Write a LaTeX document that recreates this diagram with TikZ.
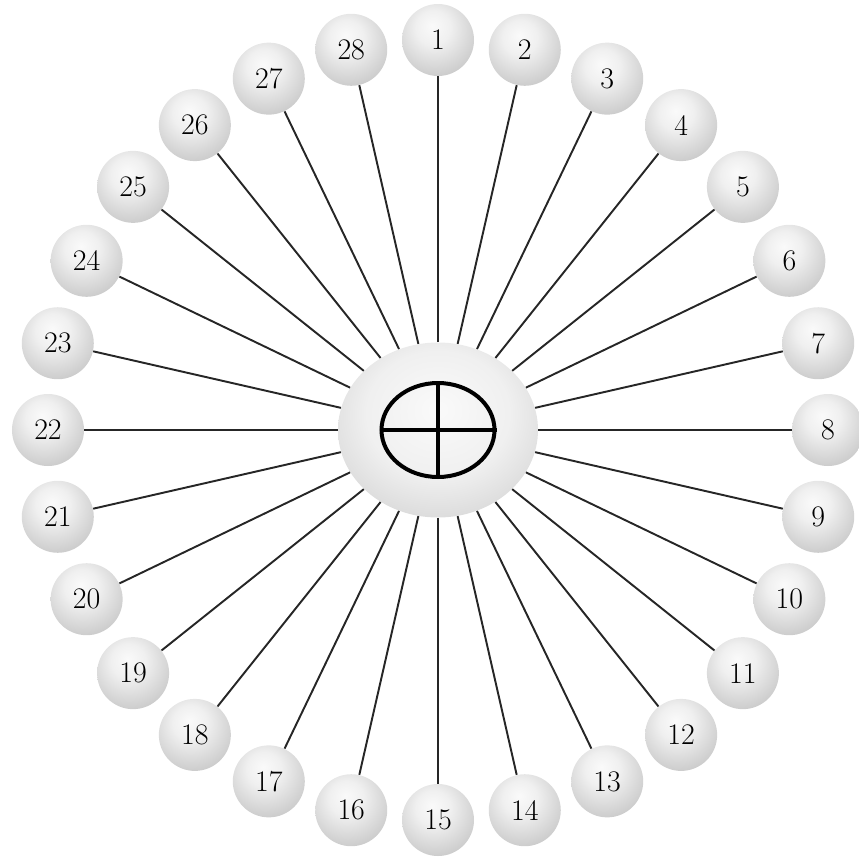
\documentclass[tikz,border=0pt]{standalone}
\usepackage{tikz}
\usetikzlibrary{positioning, shapes.geometric}
\pgfdeclareradialshading{bubble}{\pgfpoint{-4bp}{10bp}}{%
  color(0bp)=(white!98!black); color(12bp)=(white!94!black);
  color(34bp)=(black!22); color(54bp)=(black!40); color(80bp)=(black!42)}
\pgfdeclareradialshading{hub}{\pgfpoint{0bp}{6bp}}{%
  color(0bp)=(white!98!black); color(18bp)=(white!94!black);
  color(38bp)=(black!20); color(56bp)=(black!34); color(80bp)=(black!36)}
\tikzset{
  ball/.style={circle, minimum size=1.44cm, inner sep=0pt, shading=bubble,
               font=\fontsize{17}{19}\selectfont},
  hubdisc/.style={ellipse, minimum width=4cm, minimum height=3.5cm, inner sep=0pt,
                  shading=hub},
  spoke/.style={line width=1.1pt, draw=black!85},
  earthsym/.style={ellipse, draw=black, line width=0.08cm, minimum width=2.26cm,
                   minimum height=1.88cm, inner sep=0pt},
}
\begin{document}
\begin{tikzpicture}
  \useasboundingbox (-8.76,-8.54) rectangle (8.42,8.6);
  \node[hubdisc] (hub) at (0,0) {};
  % ring of numbered balls
  \foreach \i in {1,...,28}{
    \node[ball] (n\i) at ({90-(\i-1)*360/28}:7.8cm) {\i};
    \draw[spoke] (hub) -- (n\i);
  }
  % earth symbol
  \node[earthsym] (sym) at (hub.center) {};
  \draw[line width=0.08cm] (sym.north) -- (sym.south);
  \draw[line width=0.08cm] (sym.west) -- (sym.east);
\end{tikzpicture}
\end{document}
